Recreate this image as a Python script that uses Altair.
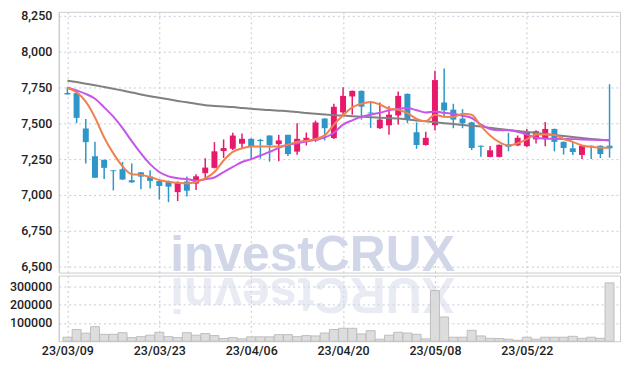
import json
import altair as alt
import pandas as pd

dates = ["23/03/09","23/03/10","23/03/13","23/03/14","23/03/15","23/03/16","23/03/17","23/03/20","23/03/21","23/03/22",
         "23/03/23","23/03/24","23/03/27","23/03/28","23/03/29","23/03/30","23/03/31","23/04/03","23/04/04","23/04/05",
         "23/04/06","23/04/07","23/04/10","23/04/11","23/04/12","23/04/13","23/04/14","23/04/17","23/04/18","23/04/19",
         "23/04/20","23/04/21","23/04/24","23/04/25","23/04/26","23/04/27","23/04/28","23/05/02","23/05/03","23/05/04",
         "23/05/08","23/05/09","23/05/10","23/05/11","23/05/12","23/05/15","23/05/16","23/05/17","23/05/18","23/05/19",
         "23/05/22","23/05/23","23/05/24","23/05/25","23/05/26","23/05/30","23/05/31","23/06/01","23/06/02","23/06/05"]

opens = [7710,7709,7463,7270,7245,7172,7180,7103,7158,7128,7097,7097,7020,7094,7080,7152,7189,7306,7322,7357,
         7391,7384,7414,7354,7419,7302,7370,7380,7532,7396,7575,7686,7725,7574,7465,7485,7554,7704,7437,7348,
         7486,7644,7594,7532,7506,7343,7265,7265,7352,7345,7340,7387,7393,7460,7370,7325,7279,7343,7343,7343]
highs = [7750,7727,7529,7370,7245,7172,7230,7220,7160,7172,7100,7100,7095,7128,7145,7255,7368,7387,7433,7428,
         7395,7391,7416,7419,7420,7500,7435,7518,7535,7635,7750,7727,7727,7644,7644,7617,7720,7706,7506,7440,
         7865,7881,7635,7598,7510,7345,7341,7350,7433,7414,7460,7450,7509,7462,7372,7370,7345,7345,7345,7771]
lows = [7700,7500,7219,7120,7111,7032,7105,7085,7040,7046,6968,6950,6958,6990,7035,7111,7185,7258,7313,7322,
        7242,7253,7232,7235,7272,7281,7345,7370,7380,7390,7548,7559,7525,7467,7460,7419,7490,7500,7322,7345,
        7449,7541,7465,7465,7313,7267,7262,7262,7304,7340,7335,7359,7340,7304,7281,7279,7250,7250,7258,7260]
closes = [7700,7537,7368,7120,7189,7166,7108,7088,7128,7098,7063,7058,7090,7030,7130,7191,7304,7327,7414,7391,
          7341,7375,7348,7380,7285,7391,7398,7504,7465,7614,7690,7725,7615,7568,7525,7559,7690,7525,7348,7398,
          7800,7589,7525,7499,7327,7336,7311,7350,7336,7398,7440,7444,7460,7370,7327,7299,7343,7338,7285,7325]
volumes = [22000,64000,44000,80000,38000,38000,47000,20000,25000,33000,49000,25000,20000,47000,33000,42000,31000,15000,20000,13000,
           24000,24000,24000,36000,36000,25000,31000,29000,45000,64000,71000,71000,40000,58000,11000,33000,49000,45000,38000,13000,
           278000,133000,22000,22000,60000,29000,16000,15000,11000,5000,22000,11000,22000,22000,22000,27000,16000,22000,16000,320000]
ma_short = [7747,7715,7650,7540,7400,7290,7200,7145,7140,7125,7105,7092,7085,7080,7090,7115,7160,7240,7300,7325,
            7338,7338,7338,7337,7350,7370,7378,7390,7415,7490,7555,7610,7635,7647,7630,7600,7594,7570,7530,7513,
            7559,7545,7543,7566,7559,7479,7414,7368,7345,7360,7387,7421,7421,7418,7390,7370,7345,7335,7329,7329]
ma_mid = [7748,7727,7704,7670,7610,7545,7465,7375,7290,7215,7160,7130,7117,7111,7100,7110,7122,7160,7195,7230,
          7250,7275,7300,7329,7350,7360,7372,7385,7400,7433,7490,7520,7545,7560,7572,7590,7600,7605,7590,7575,
          7582,7572,7565,7552,7536,7490,7460,7451,7451,7440,7421,7398,7392,7391,7390,7389,7387,7385,7383,7382]
ma_long = [7796,7786,7775,7764,7752,7740,7727,7714,7700,7688,7677,7666,7655,7645,7635,7625,7620,7616,7612,7606,
           7600,7595,7591,7587,7583,7577,7571,7565,7560,7556,7553,7549,7545,7541,7538,7535,7532,7526,7519,7513,
           7507,7500,7494,7488,7482,7476,7468,7460,7452,7445,7439,7432,7425,7418,7410,7403,7397,7390,7384,7379]

x_labels = ["23/03/09","23/03/23","23/04/06","23/04/20","23/05/08","23/05/22"]
price_ticks = [6500,6750,7000,7250,7500,7750,8000,8250]
volume_ticks = [100000,200000,300000]
watermark = "investCRUX"

UP = "#e8196b"
DOWN = "#2e96c8"
FONT = "Roboto"

df = pd.DataFrame({
    "i": list(range(len(dates))), "date": dates,
    "open": opens, "high": highs, "low": lows, "close": closes,
    "volume": volumes, "ma5": ma_short, "ma10": ma_mid, "malong": ma_long,
})
df["up"] = df["close"] >= df["open"]

x_idx = [dates.index(d) for d in x_labels]
label_expr = f"{json.dumps(x_labels)}[indexof({json.dumps(x_idx)}, datum.value)]"

W = 564
xscale = alt.Scale(domain=[-0.4, len(dates) - 0.4], nice=False, zero=False)
x_nolab = alt.X("i:Q", scale=xscale, title=None,
                axis=alt.Axis(values=x_idx, labels=False, ticks=False, domain=False, grid=True,
                              minExtent=0, maxExtent=0, labelPadding=0, offset=0))
x_lab = alt.X("i:Q", scale=xscale, title=None,
              axis=alt.Axis(values=x_idx, labelExpr=label_expr, ticks=False, domain=False, grid=True,
                            labelPadding=3, labelFlush=False, minExtent=0))

yprice = alt.Scale(domain=[6460, 8275], nice=False, zero=False)
yaxis = alt.Axis(values=price_ticks, format=",.0f", ticks=False, domain=True, grid=True, labelPadding=7)
ycol = alt.condition("datum.up", alt.value(UP), alt.value(DOWN))

def py(field):
    return alt.Y(f"{field}:Q", scale=yprice, title=None, axis=yaxis)

base = alt.Chart(df)

wm = alt.Chart(pd.DataFrame({"t": [watermark]})).mark_text(
    font="Liberation Sans", fontWeight="bold", fontSize=50, color="#d1d7e8",
    align="center", baseline="alphabetic", clip=True
).encode(text="t:N", x=alt.value(255), y=alt.value(260))

wicks = base.mark_rule(strokeWidth=1.5).encode(x=x_nolab, y=py("low"), y2="high:Q", color=ycol)
bodies = base.mark_bar(size=6).encode(x=x_nolab, y=py("open"), y2="close:Q", color=ycol)
line_long = base.mark_line(color="#808080", strokeWidth=2, interpolate="monotone").encode(x=x_nolab, y=py("malong"))
line_mid = base.mark_line(color="#c755e8", strokeWidth=2, interpolate="monotone").encode(x=x_nolab, y=py("ma10"))
line_short = base.mark_line(color="#ee8250", strokeWidth=2, interpolate="monotone").encode(x=x_nolab, y=py("ma5"))

price = alt.layer(wm, wicks, bodies, line_long, line_mid, line_short).properties(width=W, height=262)

wm2 = alt.Chart(pd.DataFrame({"t": [watermark[::-1]]})).mark_text(
    font="Liberation Sans", fontWeight="bold", fontSize=50, color="#d1d7e8", opacity=0.5,
    align="center", baseline="alphabetic", angle=180, clip=True
).encode(text="t:N", x=alt.value(255), y=alt.value(2))

vbars = base.mark_bar(size=9, fill="#d9d9d9", stroke="#bdbdbd", strokeWidth=1, fillOpacity=0.9).encode(
    x=x_lab,
    y=alt.Y("volume:Q", scale=alt.Scale(domain=[0, 360000], nice=False), title=None,
            axis=alt.Axis(values=volume_ticks, format="d", ticks=False, domain=True, grid=True, labelPadding=7)),
)
vol = alt.layer(wm2, vbars).properties(width=W, height=66)

chart = alt.vconcat(price, vol, spacing=0).properties(
    padding={"left": 0, "top": 0, "right": 5, "bottom": 5},
    background="white",
).configure_view(stroke="#cccccc", strokeWidth=1).configure_axis(
    labelFont=FONT, labelFontSize=12.5, labelFontWeight=500, labelColor="#222222",
    gridColor="#c5c9d8", gridDash=[2, 3], gridWidth=1,
    domainColor="#c8c8c8",
).configure_concat(spacing=0)

chart.save("out.html", embed_options={"renderer": "svg", "actions": False})
